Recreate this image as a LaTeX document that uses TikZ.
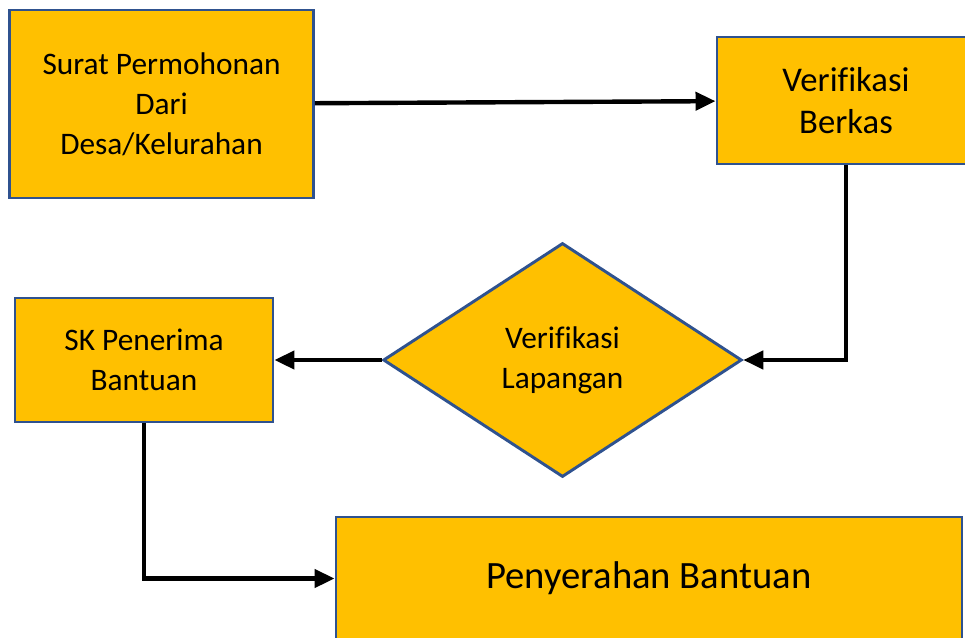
\documentclass[tikz,border=0pt]{standalone}
\usepackage{fontspec}
\setmainfont{Carlito}[Ligatures=CommonOff]
\usetikzlibrary{arrows.meta,shapes.geometric}
\definecolor{boxfill}{HTML}{FFC000}
\definecolor{boxline}{HTML}{2F528F}

\begin{document}
\begin{tikzpicture}[x=0.75pt,y=-0.75pt,>={Triangle[length=15pt,width=13.5pt]},
    box/.style={draw=boxline,fill=boxfill,line width=2.2pt,inner sep=0pt,align=center},
    decide/.style={box,diamond},
    flow/.style={->,line width=3.3pt}]
  \useasboundingbox (0,0) rectangle (965,637);

  \node[box, minimum width=228pt, minimum height=141pt, font=\fontsize{23.5}{30}\selectfont]
        (surat) at (161.5,104) {Surat Permohonan\\Dari\\Desa/Kelurahan};
  \node[box, minimum width=193.5pt, minimum height=95.25pt, font=\fontsize{26}{31.5}\selectfont]
        (berkas) at (846,100.5) {Verifikasi\\Berkas};
  \node[decide, minimum width=269pt, minimum height=175.5pt, font=\fontsize{23.5}{30}\selectfont]
        (lapangan) at (562.5,360) {Verifikasi\\Lapangan};
  \node[box, minimum width=193.5pt, minimum height=93pt, font=\fontsize{23.5}{30}\selectfont]
        (sk) at (144,360) {SK Penerima\\Bantuan};
  \node[box, minimum width=469.5pt, minimum height=92.25pt, font=\fontsize{29}{35}\selectfont]
        (serah) at (649,578.5) {Penyerahan Bantuan};

  \draw[flow]
        (surat) edge (berkas)
        (lapangan) edge (sk);
  \draw[flow] (berkas) |- (lapangan);
  \draw[flow] (sk) |- (serah);

\end{tikzpicture}
\end{document}
